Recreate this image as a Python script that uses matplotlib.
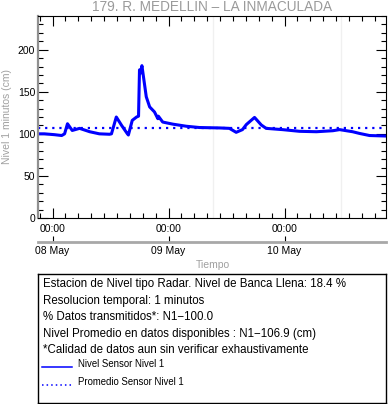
#!/usr/bin/env python
# Nivel 1 minutos - estacion radar 179, R. Medellin - La Inmaculada
import numpy as np
import matplotlib
matplotlib.use('Agg')
import matplotlib.pyplot as plt
import matplotlib.dates as mdates
from matplotlib.ticker import MultipleLocator, FixedLocator

plt.rcParams['font.family'] = ['Liberation Sans', 'DejaVu Sans']

##### DATOS #####
t0 = np.datetime64('2025-05-08T00:00')
# horas relativas a 08 May 00:00
horas = [-3.0, -1.7, 0.4, 1.9, 2.5, 3.1, 4.1, 5.6, 7.7, 9.7, 11.8, 12.2,
         13.2, 14.3, 15.5, 15.7, 16.5, 17.4, 17.8, 18.0, 18.2, 18.5, 19.4,
         20.1, 21.1, 21.8, 21.9, 22.8, 24.9, 27.7, 30.4, 34.6, 36.6, 38.0,
         39.3, 40.1, 41.8, 43.2, 44.2, 47.6, 51.1, 54.6, 58.0, 59.4, 62.1,
         63.5, 65.6, 69.0]
nivel = [100, 100, 99, 98, 100, 112, 104, 106.5, 102.5, 100, 99.5, 100,
         120, 110, 100, 98.6, 116, 120, 121, 176, 172, 181, 144,
         132, 126, 118, 121, 114, 111.5, 109, 107.5, 107, 106.5, 101.8,
         105, 111, 119.5, 110.5, 106.5, 105, 103, 102.5, 103.7, 105, 102.5,
         100.5, 98, 97.4]
promedio = 106.9
t_ini = t0 - np.timedelta64(3, 'h')
t_fin = t0 + np.timedelta64(69, 'h')
grid_horas = [33.3, 59.6]

tiempos = t0 + (np.array(horas) * 60).astype(int).astype('timedelta64[m]')
grid_t = t0 + (np.array(grid_horas) * 60).astype(int).astype('timedelta64[m]')

texto = ['Estacion de Nivel tipo Radar. Nivel de Banca Llena: 18.4 %',
         'Resolucion temporal: 1 minutos',
         '% Datos transmitidos*: N1\u2212100.0',
         'Nivel Promedio en datos disponibles : N1\u2212106.9 (cm)',
         '*Calidad de datos aun sin verificar exhaustivamente']
leyenda = ['Nivel Sensor Nivel 1', 'Promedio Sensor Nivel 1']
########################

W, H = 388, 404
fig = plt.figure(figsize=(W / 100, H / 100), dpi=100)

def px(x0, y0, x1, y1):
    # caja en pixeles (desde arriba) -> fraccion de figura
    return [x0 / W, 1 - y1 / H, (x1 - x0) / W, (y1 - y0) / H]

ax = fig.add_axes(px(38, 16, 386, 218))
ax.plot(tiempos, nivel, color='blue', lw=2.2, solid_joinstyle='round')
ax.axhline(promedio, color='blue', lw=1.6, ls=(0, (1, 2.2)))
for g in grid_t:
    ax.axvline(g, color='#f0f0f0', lw=1, zorder=0)
ax.set_xlim(t_ini, t_fin)
ax.set_ylim(0, 240)

ax.xaxis.set_major_locator(mdates.DayLocator())
ax.xaxis.set_major_formatter(mdates.DateFormatter('%H:%M'))
ax.xaxis.set_minor_locator(MultipleLocator(1 / 9))
ax.yaxis.set_major_locator(FixedLocator([0, 50, 100, 150, 200]))
ax.yaxis.set_minor_locator(MultipleLocator(10))
ax.tick_params(which='both', direction='in', top=True, right=True, labelsize=7.5, width=0.8)
ax.tick_params(which='major', length=7)
ax.tick_params(which='minor', length=3.5)
ax.tick_params(axis='x', pad=4)
ax.tick_params(axis='y', pad=2)
for s in ['top', 'right', 'bottom']:
    ax.spines[s].set_linewidth(0.8)
ax.spines['left'].set_color('#909090')
ax.spines['left'].set_linewidth(1.6)

# segundo eje con las fechas
ax2 = fig.add_axes(px(38, 241, 386, 241.5))
ax2.set_xlim(t_ini, t_fin)
ax2.xaxis.set_major_locator(mdates.DayLocator())
ax2.xaxis.set_major_formatter(mdates.DateFormatter('%d %b'))
ax2.set_yticks([])
for s in ['top', 'left', 'right']:
    ax2.spines[s].set_visible(False)
ax2.spines['bottom'].set_color('#a8a8a8')
ax2.spines['bottom'].set_linewidth(2)
ax2.tick_params(axis='x', direction='in', length=4, width=0.8, labelsize=7.5, pad=3)
ax2.patch.set_visible(False)

fig.text(212 / W, 1 - 7 / H, '179. R. MEDELLIN \u2013 LA INMACULADA', color='#9a9a9a',
         fontsize=9.8, ha='center', va='center')
fig.text(7 / W, 1 - 117 / H, 'Nivel 1 minutos (cm)', color='#a0a0a0', fontsize=7.5,
         rotation=90, ha='center', va='center')
fig.text(213 / W, 1 - 265 / H, 'Tiempo', color='#a0a0a0', fontsize=7.5,
         ha='center', va='center')

# caja de informacion
ax3 = fig.add_axes(px(37.5, 273.5, 386, 402.5))
ax3.set_xticks([])
ax3.set_yticks([])
for s in ax3.spines.values():
    s.set_linewidth(1)
ax3.set_xlim(0, 1)
ax3.set_ylim(0, 1)
y_lineas = [284, 300.7, 317.3, 334, 350]
for t, yy in zip(texto, y_lineas):
    fig.text(43 / W, 1 - yy / H, t, fontsize=8.3, ha='left', va='center')
y_ley = [367, 385]
estilos = ['-', (0, (1, 2))]
for lab, yy, st in zip(leyenda, y_ley, estilos):
    fig.add_artist(plt.Line2D([42 / W, 72 / W], [1 - yy / H, 1 - yy / H], color='blue',
                              lw=1.1, ls=st))
    fig.text(78 / W, 1 - (yy - 3) / H, lab, fontsize=6.9, ha='left', va='center')

fig.savefig('out.png', dpi=100)
